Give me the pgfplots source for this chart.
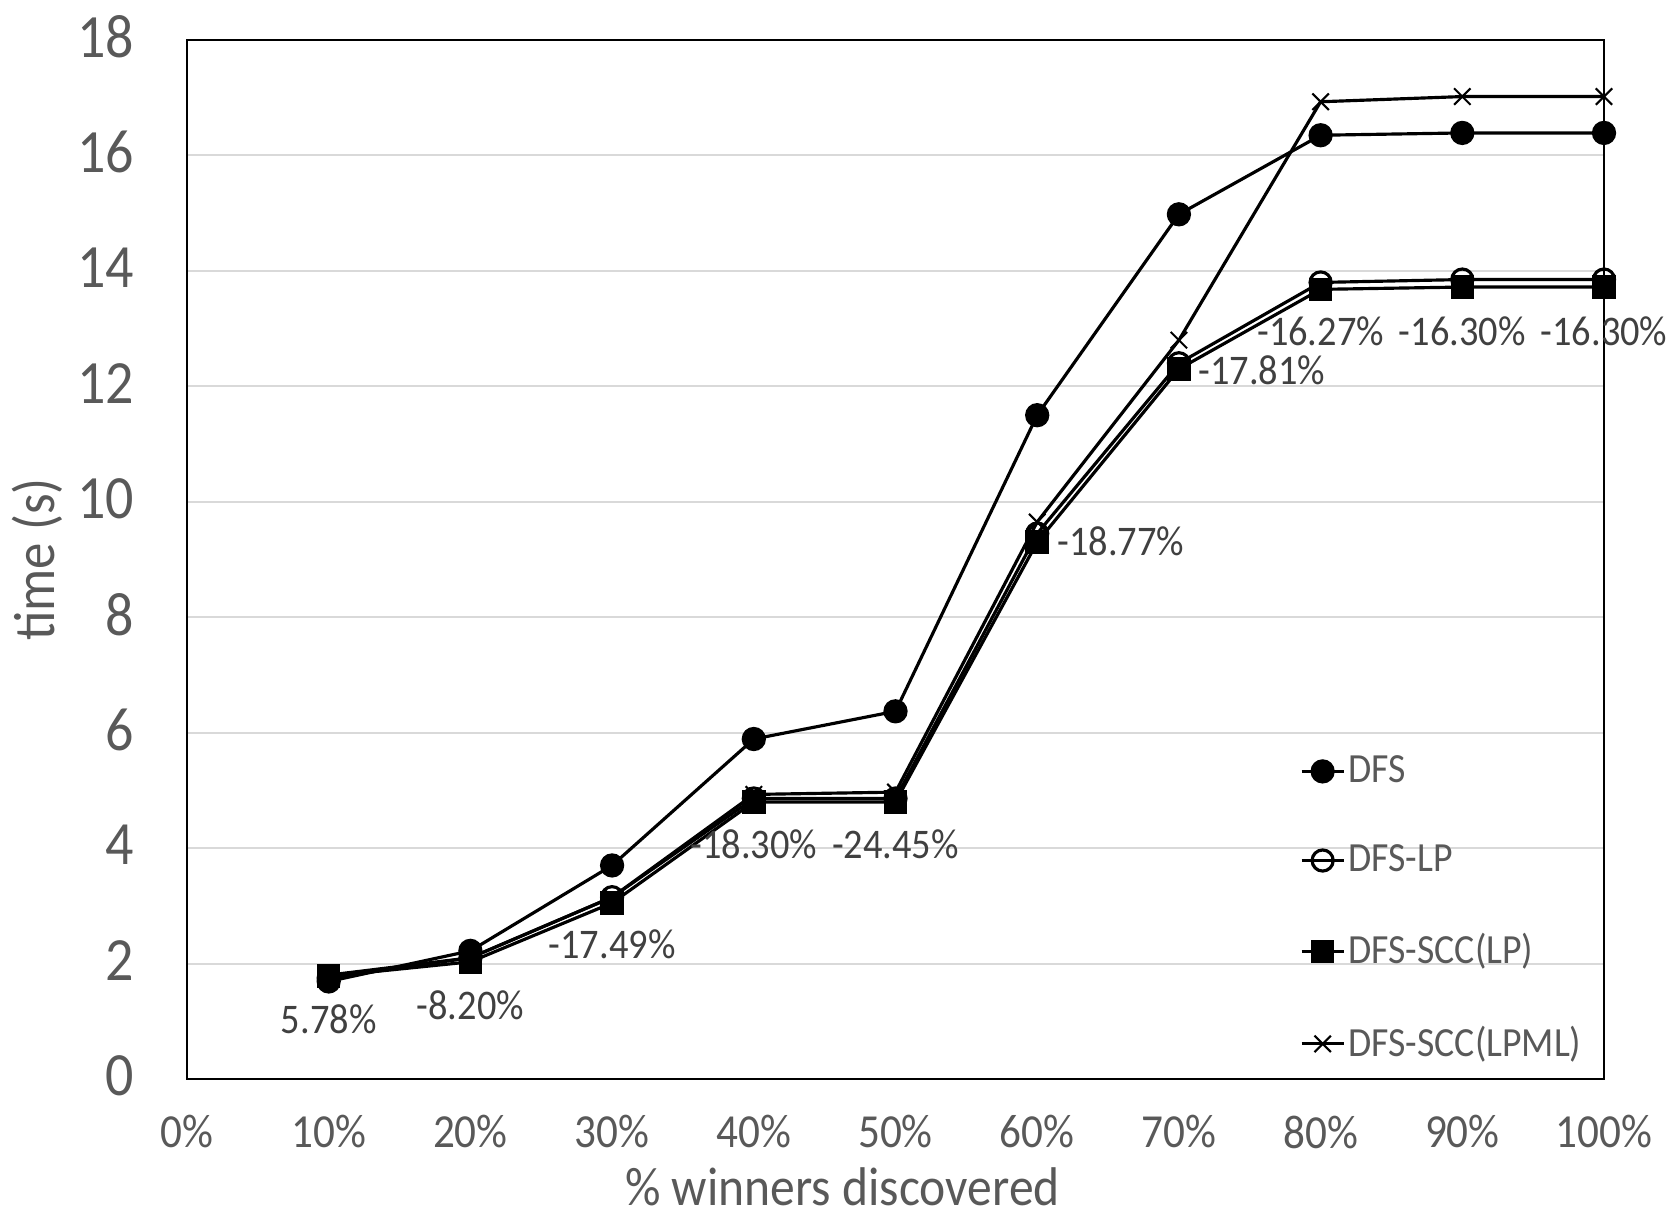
\documentclass[border=0pt]{standalone}
\usepackage{pgfplots}
\pgfplotsset{compat=1.18}
\usepackage{fontspec}
\setmainfont{Carlito}[FakeStretch=0.91]
\definecolor{tickgray}{HTML}{595959}
\definecolor{labgray}{HTML}{404040}
\definecolor{gridgray}{HTML}{D9D9D9}
\begin{document}
\begin{tikzpicture}
\path[use as bounding box] (-1.87cm,-1.50cm) rectangle (14.82cm,10.79cm);
\begin{axis}[
  at={(0,0)}, anchor=south west,
  scale only axis, width=14.17cm, height=10.39cm,
  xmin=0, xmax=100, ymin=0, ymax=18,
  xtick={0,10,20,30,40,50,60,70,80,90,100},
  xticklabels={0\%,10\%,20\%,30\%,40\%,50\%,60\%,70\%,80\%,90\%,100\%},
  ytick={0,2,4,6,8,10,12,14,16,18},
  ymajorgrids, grid style={gridgray, line width=0.6pt},
  major tick length=0pt,
  axis line style={black, line width=0.6pt},
  clip=false,
  /pgf/number format/assume math mode=true,
  xticklabel style={font=\fontsize{13.5}{15}\selectfont, text=tickgray, inner sep=0pt, anchor=center, yshift=-0.53cm},
  yticklabel style={font=\fontsize{17.5}{20}\selectfont, text=tickgray, inner sep=0pt, anchor=east, xshift=-0.52cm, yshift=0.03cm},
  xlabel={\% winners discovered},
  ylabel={time (s)},
  every axis x label/.style={at={(axis description cs:0.5,0)}, xshift=-0.53cm, yshift=-1.08cm, anchor=center, font=\fontsize{15.5}{18}\selectfont, text=tickgray},
  every axis y label/.style={at={(axis description cs:0,0.5)}, xshift=-1.50cm, rotate=90, anchor=center, font=\fontsize{16.5}{19}\selectfont, text=tickgray},
  legend style={at={(rel axis cs:0.785,0.319)}, anchor=north west, draw=none, fill=none,
    font=\fontsize{11.8}{13}\selectfont, text=tickgray, row sep=12.2pt, inner sep=0pt,
    nodes={inner xsep=1pt}},
  legend cell align=left,
  legend image code/.code={\draw[mark repeat=2,mark phase=2,#1] plot coordinates {(0cm,0cm) (0.21cm,0cm) (0.42cm,0cm)};},
  every axis plot/.append style={black, line width=0.9pt},
]
\addplot[mark=*, mark size=3pt, mark options={fill=black}] coordinates {
(10,1.69) (20,2.22) (30,3.70) (40,5.89) (50,6.37) (60,11.50) (70,14.98) (80,16.35) (90,16.39) (100,16.39)};
\addlegendentry{DFS}
\addplot[mark=o, mark size=3pt, mark options={fill=white}] coordinates {
(10,1.75) (20,2.10) (30,3.15) (40,4.86) (50,4.86) (60,9.45) (70,12.40) (80,13.80) (90,13.85) (100,13.85)};
\addlegendentry{DFS-LP}
\addplot[mark=square*, mark size=2.9pt, mark options={fill=black}] coordinates {
(10,1.78) (20,2.03) (30,3.05) (40,4.80) (50,4.80) (60,9.30) (70,12.30) (80,13.68) (90,13.72) (100,13.72)};
\addlegendentry{DFS-SCC(LP)}
\addplot[mark=x, mark size=3.3pt, mark options={line width=0.6pt}] coordinates {
(10,1.80) (20,2.10) (30,3.15) (40,4.93) (50,4.97) (60,9.65) (70,12.80) (80,16.93) (90,17.02) (100,17.02)};
\addlegendentry{DFS-SCC(LPML)}
\begin{scope}[every node/.style={font=\fontsize{12}{14}\selectfont, text=labgray, anchor=center, inner sep=0pt}]
\node at (axis cs:10,1.04) {5.78\%};
\node at (axis cs:20,1.28) {-8.20\%};
\node at (axis cs:30,2.33) {-17.49\%};
\node at (axis cs:40,4.07) {-18.30\%};
\node at (axis cs:50,4.07) {-24.45\%};
\node at (axis cs:65.9,9.31) {-18.77\%};
\node at (axis cs:75.85,12.28) {-17.81\%};
\node at (axis cs:80,12.96) {-16.27\%};
\node at (axis cs:90,12.96) {-16.30\%};
\node at (axis cs:100,12.96) {-16.30\%};
\end{scope}
\end{axis}
\end{tikzpicture}
\end{document}
